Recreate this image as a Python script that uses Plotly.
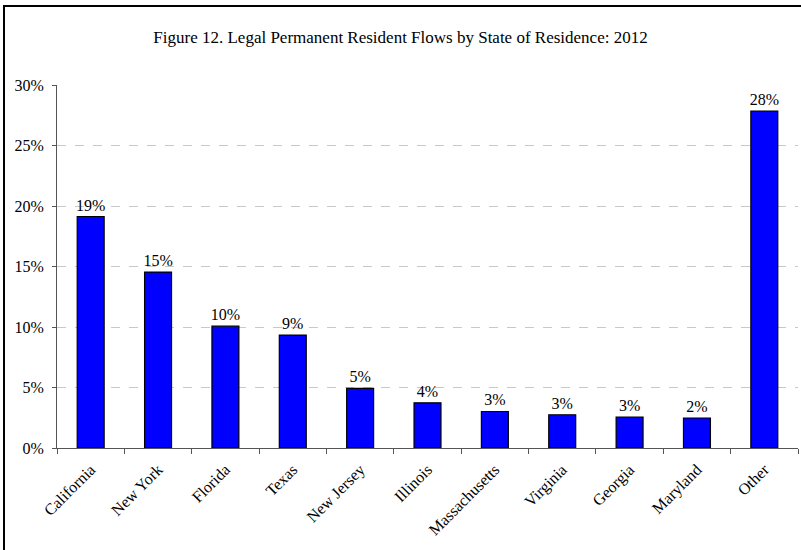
import plotly.graph_objects as go

# Share of legal permanent resident flows, by state of residence (percent)
states = ["California", "New York", "Florida", "Texas", "New Jersey", "Illinois",
          "Massachusetts", "Virginia", "Georgia", "Maryland", "Other"]
shares = [19.15, 14.55, 10.08, 9.34, 4.93, 3.74, 3.02, 2.75, 2.55, 2.48, 27.88]

y_ticks = [0, 5, 10, 15, 20, 25, 30]
y_tick_labels = [f"{v}%" for v in y_ticks]

FONT = "Liberation Serif, Times New Roman, serif"

W, H = 801, 550
ML, MR, MT, MB = 57, 3, 85, 102
plot_w = W - ML - MR
plot_h = H - MT - MB

fig = go.Figure()
fig.add_trace(go.Bar(
    x=states,
    y=shares,
    marker=dict(color="#0000ff", line=dict(color="#000000", width=1.2)),
    texttemplate="%{y:.0f}%",
    textposition="outside",
    constraintext="none",
    textfont=dict(family=FONT, size=16, color="#000000"),
    cliponaxis=False,
    hoverinfo="skip",
))

# outer frame around the figure
fig.add_shape(
    type="rect", xref="paper", yref="paper",
    x0=(4 - ML) / plot_w, x1=(W + 20 - ML) / plot_w,
    y0=(MT + plot_h - (H + 20)) / plot_h, y1=(MT + plot_h - 6) / plot_h,
    line=dict(color="#000000", width=2), fillcolor="rgba(0,0,0,0)", layer="above",
)

fig.update_layout(
    width=W, height=H,
    margin=dict(l=ML, r=MR, t=MT, b=MB),
    paper_bgcolor="white", plot_bgcolor="white",
    bargap=0.6,
    showlegend=False,
    font=dict(family=FONT, size=16, color="#000000"),
    title=dict(
        text="Figure 12. Legal Permanent Resident Flows by State of Residence: 2012",
        x=0.5, xanchor="center", xref="container",
        y=1 - 37 / H, yanchor="middle",
        font=dict(family=FONT, size=17, color="#000000"),
    ),
    xaxis=dict(
        type="category",
        tickangle=-45,
        tickson="boundaries",
        ticks="outside", ticklen=5, tickcolor="#555555",
        ticklabelstandoff=5,
        showline=True, linecolor="#555555", linewidth=1,
        showgrid=False,
        tickfont=dict(family=FONT, size=16, color="#000000"),
    ),
    yaxis=dict(
        range=[0, 30.03],
        tickvals=y_ticks, ticktext=y_tick_labels,
        ticks="outside", ticklen=4, tickcolor="#555555",
        ticklabelstandoff=5,
        showline=True, linecolor="#555555", linewidth=1,
        showgrid=True, gridcolor="#c8c8c8", griddash="dash", gridwidth=1,
        zeroline=False,
        tickfont=dict(family=FONT, size=16, color="#000000"),
    ),
)

fig.write_html("out.html")
